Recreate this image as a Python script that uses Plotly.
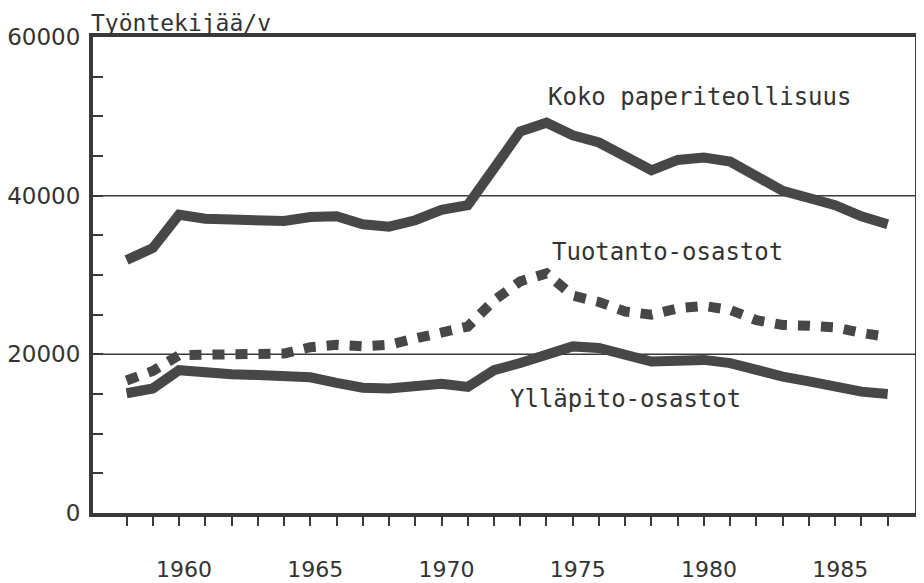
import plotly.graph_objects as go

years = list(range(1958, 1988))

koko = [31900, 33400, 37600, 37100, 37000, 36900, 36800, 37300, 37400, 36400,
        36100, 36900, 38200, 38800, 43400, 48100, 49200, 47600, 46700, 44900,
        43200, 44500, 44800, 44300, 42500, 40600, 39700, 38800, 37400, 36400]

tuotanto = [16700, 17900, 19900, 19900, 20000, 20000, 20100, 20900, 21200, 21000,
            21200, 22000, 22700, 23500, 26800, 29200, 30200, 27400, 26600, 25400,
            25000, 25800, 26100, 25600, 24300, 23700, 23600, 23400, 22700, 22200]

yllapito = [15100, 15700, 18000, 17600, 17500, 17400, 17400, 17100, 16400, 15800,
            15700, 15900, 16300, 15900, 18000, 18900, 19900, 21000, 20800, 19900,
            19100, 19200, 19300, 18900, 18000, 17200, 16600, 15900, 15300, 15000]

series_names = ["Koko paperiteollisuus", "Tuotanto-osastot", "Ylläpito-osastot"]

x_tick_years = years
x_label_years = [1960, 1965, 1970, 1975, 1980, 1985]
y_tick_vals = list(range(0, 60001, 5000))
y_label_vals = [0, 20000, 40000, 60000]
grid_vals = [20000, 40000]

y_title = "Työntekijää/v"

LINE_COLOR = "#474747"
TEXT_COLOR = "#333333"
MONO = "DejaVu Sans Mono"

fig = go.Figure()
fig.add_trace(go.Scatter(x=years, y=koko, mode="lines", name=series_names[0],
                         line=dict(color=LINE_COLOR, width=10)))
fig.add_trace(go.Scatter(x=years, y=tuotanto, mode="lines", name=series_names[1],
                         line=dict(color=LINE_COLOR, width=10, dash="12px,11px")))
fig.add_trace(go.Scatter(x=years, y=yllapito, mode="lines", name=series_names[2],
                         line=dict(color=LINE_COLOR, width=10)))

for g in grid_vals:
    fig.add_shape(type="line", xref="paper", x0=0, x1=1, yref="y", y0=g, y1=g,
                  line=dict(color="#3a3a3a", width=1.5), layer="below")

# right frame line (thin)
fig.add_shape(type="line", xref="paper", x0=1, x1=1, yref="paper", y0=0, y1=1,
              line=dict(color="#3a3a3a", width=2))

fig.add_annotation(x=1974.0, y=52500, text=series_names[0], showarrow=False,
                   xanchor="left", yanchor="middle",
                   font=dict(family=MONO, size=24, color=TEXT_COLOR))
fig.add_annotation(x=1974.15, y=32900, text=series_names[1], showarrow=False,
                   xanchor="left", yanchor="middle",
                   font=dict(family=MONO, size=24, color=TEXT_COLOR))
fig.add_annotation(x=1972.55, y=14400, text=series_names[2], showarrow=False,
                   xanchor="left", yanchor="middle",
                   font=dict(family=MONO, size=24, color=TEXT_COLOR))
fig.add_annotation(xref="paper", yref="paper", x=0, y=1.06, xshift=-4,
                   text=y_title, showarrow=False, xanchor="left", yanchor="top",
                   font=dict(family=MONO, size=23, color=TEXT_COLOR))

fig.update_layout(
    width=908, height=575, autosize=False,
    margin=dict(l=85, r=0, t=29, b=70, autoexpand=False),
    paper_bgcolor="white", plot_bgcolor="white",
    showlegend=False,
    xaxis=dict(
        range=[1956.72, 1988.08],
        tickvals=x_tick_years,
        ticktext=[str(y) if y in x_label_years else "" for y in x_tick_years],
        ticks="outside", ticklen=9, tickwidth=2, tickcolor="#3a3a3a",
        showline=True, linewidth=4, linecolor="#3a3a3a", mirror=True,
        showgrid=False, zeroline=False, automargin=False,
        tickfont=dict(family="DejaVu Sans", size=22, color=TEXT_COLOR),
        ticklabelstandoff=25, ticklabelshift=5,
    ),
    yaxis=dict(
        range=[0, 60000],
        tickvals=y_tick_vals,
        ticktext=[str(v) if v in y_label_vals else "" for v in y_tick_vals],
        ticks="inside", ticklen=10, tickwidth=2, tickcolor="#3a3a3a",
        showline=True, linewidth=4, linecolor="#3a3a3a",
        showgrid=False, zeroline=False, automargin=False,
        tickfont=dict(family="DejaVu Sans", size=23, color=TEXT_COLOR),
        ticklabelstandoff=4,
    ),
)

fig.write_html("out.html")
